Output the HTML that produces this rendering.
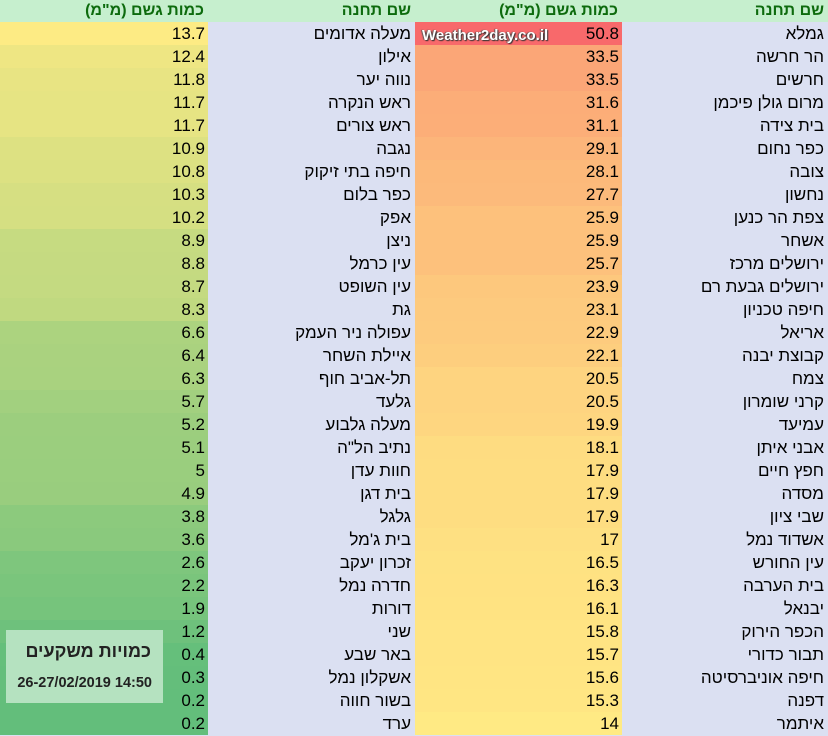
<!DOCTYPE html>
<html><head><meta charset="utf-8">
<style>
html,body{margin:0;padding:0;}
body{width:828px;height:736px;overflow:hidden;background:#dbe0f2;font-family:"Liberation Sans",Arial,"Noto Sans CJK SC",sans-serif;position:relative;}
.c{position:absolute;height:23px;line-height:23px;font-size:17px;color:#000;box-sizing:border-box;text-align:right;white-space:nowrap;}
.h{position:absolute;top:0;height:22px;line-height:22px;font-size:16px;font-weight:bold;color:#0d6b0d;background:#c6efce;text-align:right;box-sizing:border-box;padding-right:4px;}
#wm{position:absolute;left:422px;top:24px;font-weight:bold;font-size:15px;color:#fff;line-height:23px;text-shadow:1px 1px 1px #333,-1px 0 1px #555;}
#box{position:absolute;left:6px;top:630px;width:157px;height:73px;background:#b5e2c0;text-align:right;}
#box .t{position:absolute;right:12px;top:11px;font-size:18px;font-weight:bold;color:#222;}
#box .d{position:absolute;right:11px;top:45px;font-size:14.5px;font-weight:bold;color:#222;}
</style></head><body>
<div class="h" style="left:0;width:208px;">כמות גשם (מ"מ)</div>
<div class="h" style="left:208px;width:207px;">שם תחנה</div>
<div class="h" style="left:415px;width:207px;">כמות גשם (מ"מ)</div>
<div class="h" style="left:622px;width:206px;">שם תחנה</div>
<div id="rows"></div>
<div id="wm">Weather2day.co.il</div>
<div id="box"><div class="t">כמויות משקעים</div><div class="d">26-27/02/2019 14:50</div></div>
<script>
var R=[["גמלא","50.8"],["הר חרשה","33.5"],["חרשים","33.5"],["מרום גולן פיכמן","31.6"],["בית צידה","31.1"],["כפר נחום","29.1"],["צובה","28.1"],["נחשון","27.7"],["צפת הר כנען","25.9"],["אשחר","25.9"],["ירושלים מרכז","25.7"],["ירושלים גבעת רם","23.9"],["חיפה טכניון","23.1"],["אריאל","22.9"],["קבוצת יבנה","22.1"],["צמח","20.5"],["קרני שומרון","20.5"],["עמיעד","19.9"],["אבני איתן","18.1"],["חפץ חיים","17.9"],["מסדה","17.9"],["שבי ציון","17.9"],["אשדוד נמל","17"],["עין החורש","16.5"],["בית הערבה","16.3"],["יבנאל","16.1"],["הכפר הירוק","15.8"],["תבור כדורי","15.7"],["חיפה אוניברסיטה","15.6"],["דפנה","15.3"],["איתמר","14"]];
var L=[["מעלה אדומים","13.7"],["אילון","12.4"],["נווה יער","11.8"],["ראש הנקרה","11.7"],["ראש צורים","11.7"],["נגבה","10.9"],["חיפה בתי זיקוק","10.8"],["כפר בלום","10.3"],["אפק","10.2"],["ניצן","8.9"],["עין כרמל","8.8"],["עין השופט","8.7"],["גת","8.3"],["עפולה ניר העמק","6.6"],["איילת השחר","6.4"],["תל-אביב חוף","6.3"],["גלעד","5.7"],["מעלה גלבוע","5.2"],["נתיב הל\"ה","5.1"],["חוות עדן","5"],["בית דגן","4.9"],["גלגל","3.8"],["בית ג'מל","3.6"],["זכרון יעקב","2.6"],["חדרה נמל","2.2"],["דורות","1.9"],["שני","1.2"],["באר שבע","0.4"],["אשקלון נמל","0.3"],["בשור חווה","0.2"],["ערד","0.2"]];
var mn=0.2,mx=50.8,md=13.85;
function col(v){var a,b,t;if(v<=md){t=(v-mn)/(md-mn);a=[99,190,123];b=[255,235,132];}else{t=(v-md)/(mx-md);a=[255,235,132];b=[248,105,107];}
return "rgb("+a.map(function(x,i){return Math.round(x+(b[i]-x)*t)}).join(",")+")";}
var h="";
for(var i=0;i<31;i++){var y=22+i*23;
h+='<div class="c" style="left:0;width:208px;top:'+y+'px;background:'+col(+L[i][1])+';padding-right:3px">'+L[i][1]+'</div>';
h+='<div class="c" style="left:208px;width:207px;top:'+y+'px;padding-right:4px" dir="rtl">'+L[i][0]+'</div>';
h+='<div class="c" style="left:415px;width:207px;top:'+y+'px;background:'+col(+R[i][1])+';padding-right:3px">'+R[i][1]+'</div>';
h+='<div class="c" style="left:622px;width:206px;top:'+y+'px;padding-right:4px" dir="rtl">'+R[i][0]+'</div>';}
document.getElementById("rows").innerHTML=h;
</script>
</body></html>
